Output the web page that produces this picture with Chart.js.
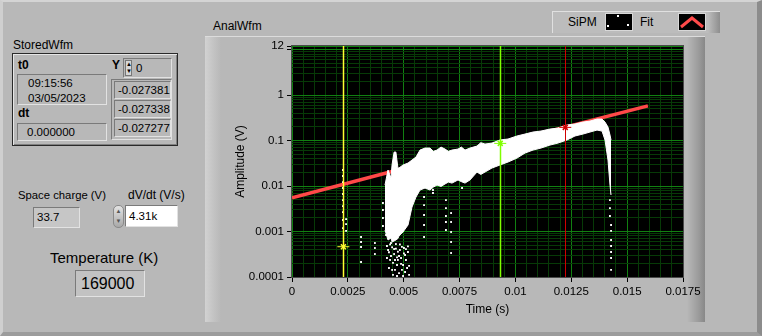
<!DOCTYPE html>
<html>
<head>
<meta charset="utf-8">
<script src="https://cdn.jsdelivr.net/npm/chart.js@4/dist/chart.umd.min.js"></script>
<style>
  body { margin: 0; width: 762px; height: 336px; overflow: hidden; background: #b8b8b8;
         font-family: "Liberation Sans", Arial, sans-serif; font-size: 12px; color: #000; position: relative; }
  .abs { position: absolute; white-space: nowrap; }
  #panel { left: 0; top: 0; width: 762px; height: 336px; box-sizing: border-box;
           border-top: 2px solid #d4d4d4; border-left: 3px solid #cfcfcf; border-right: 5px solid #8c8c8c; border-bottom: 4px solid #9c9c9c; }
  .lbl { line-height: 14px; }
  .sunk { box-sizing: border-box; border-top: 1px solid #7a7a7a; border-left: 1px solid #7a7a7a;
          border-bottom: 1px solid #e2e2e2; border-right: 1px solid #e2e2e2; }
  .raised { box-sizing: border-box; border: 1px solid #2a2a2a; box-shadow: inset 1px 1px #e6e6e6, inset -1px -1px #808080; }
  .cell { left: 114px; width: 57px; height: 18px; line-height: 16px; padding-left: 3px; font-size: 11.5px; }
  #graphFrame { left: 205px; top: 36px; width: 500px; height: 286px; box-sizing: border-box;
                border-top: 1px solid #dcdcdc;
                background: linear-gradient(to right, #d2d2d2 0, #c4c4c4 8px, #b8b8b8 16px, #b8b8b8 calc(100% - 18px), #9a9a9a calc(100% - 6px), #888 100%); }
  #legend { left: 552px; top: 11px; width: 168px; height: 22px; box-sizing: border-box;
            border-top: 1px solid #e0e0e0; border-left: 1px solid #e0e0e0;
            background: linear-gradient(to right, #bcbcbc 0, #bcbcbc calc(100% - 12px), #8e8e8e 100%); }
  .swatch { background: #000; width: 28px; height: 18px; top: 13px; box-sizing: border-box; border: 1px solid #d8d8d8; }
</style>
</head>
<body>
<div id="panel" class="abs"></div>

<!-- StoredWfm cluster -->
<div class="abs lbl" style="left:13px;top:38px;">StoredWfm</div>
<div class="abs raised" style="left:12px;top:53px;width:166px;height:93px;"></div>
<div class="abs lbl" style="left:18px;top:58px;font-weight:bold;">t0</div>
<div class="abs sunk" style="left:17px;top:74px;width:90px;height:31px;padding:1px 0 0 10px;line-height:15px;font-size:11.5px;">09:15:56<br>03/05/2023</div>
<div class="abs lbl" style="left:18px;top:106px;font-weight:bold;">dt</div>
<div class="abs sunk" style="left:17px;top:123px;width:90px;height:18px;padding-left:9px;line-height:16px;font-size:11.5px;">0.000000</div>
<div class="abs lbl" style="left:112px;top:58px;font-weight:bold;">Y</div>
<div class="abs sunk" style="left:123px;top:58px;width:49px;height:20px;"></div>
<div class="abs" style="left:125px;top:60px;width:7px;height:16px;background:#d6d6d6;border:1px solid #777;box-sizing:border-box;font-size:6px;line-height:7px;text-align:center;">&#9650;<br>&#9660;</div>
<div class="abs lbl" style="left:136px;top:61px;font-size:11.5px;">0</div>
<div class="abs sunk" style="left:111px;top:79px;width:61px;height:61px;"></div>
<div class="abs sunk cell" style="top:81px;">-0.027381</div>
<div class="abs sunk cell" style="top:100px;">-0.027338</div>
<div class="abs sunk cell" style="top:119px;">-0.027277</div>

<!-- Space charge / dV/dt / Temperature -->
<div class="abs lbl" style="left:18px;top:188px;font-size:11.3px;">Space charge (V)</div>
<div class="abs sunk" style="left:33px;top:207px;width:47px;height:21px;background:#c6c6c6;padding-left:3px;line-height:19px;font-size:11.5px;">33.7</div>
<div class="abs lbl" style="left:128px;top:188px;">dV/dt (V/s)</div>
<div class="abs" style="left:113px;top:205px;width:11px;height:23px;border-radius:5px;box-sizing:border-box;border:1px solid #8a8a8a;background:linear-gradient(#e4e4e4,#a8a8a8);font-size:6px;line-height:10px;text-align:center;color:#555;">&#9650;<br>&#9660;</div>
<div class="abs sunk" style="left:125px;top:205px;width:53px;height:22px;background:#fff;padding-left:3px;line-height:20px;font-size:11.5px;">4.31k</div>
<div class="abs" style="left:50px;top:249px;font-size:15px;line-height:18px;">Temperature (K)</div>
<div class="abs sunk" style="left:75px;top:270px;width:70px;height:27px;background:#c2c2c2;padding-left:5px;line-height:25px;font-size:16px;">169000</div>

<!-- Graph -->
<div class="abs lbl" style="left:213px;top:19px;">AnalWfm</div>
<div id="graphFrame" class="abs"></div>
<div class="abs" style="left:205px;top:36px;width:500px;height:286px;"><canvas id="graph"></canvas></div>

<div id="legend" class="abs"></div>
<div class="abs lbl" style="left:568px;top:15px;">SiPM</div>
<div class="abs swatch" style="left:605px;">
  <div class="abs" style="left:11px;top:1px;width:2px;height:2px;background:#fff;"></div>
  <div class="abs" style="left:1px;top:11px;width:2px;height:2px;background:#fff;"></div>
  <div class="abs" style="left:21px;top:10px;width:2px;height:2px;background:#fff;"></div>
</div>
<div class="abs lbl" style="left:640px;top:15px;">Fit</div>
<div class="abs swatch" style="left:678px;">
  <svg width="26" height="16" style="position:absolute;left:0;top:0"><polyline points="2,13 13,4 24,13" fill="none" stroke="#ff4a4a" stroke-width="3"/></svg>
</div>

<script>
// Fit line (exponential, straight on the log axis)
const fitX = [0, 0.00443, 0.0093, 0.01593];
const fitY = [0.0055, 0.0206, 0.084, 0.58];

// SiPM waveform envelope (dense white band)
const sipmX = [0.004162, 0.004297, 0.00443, 0.00448, 0.00457, 0.00465, 0.00474, 0.004789, 0.004968, 0.005192,
  0.005371, 0.00555, 0.005729, 0.005953, 0.006176, 0.00633, 0.00649, 0.00667, 0.006848, 0.007, 0.007161,
  0.00743, 0.00758, 0.007743, 0.007967, 0.00828, 0.00845, 0.008638, 0.008951, 0.009309, 0.009668,
  0.01007, 0.010428, 0.010786, 0.011144, 0.011547, 0.011905, 0.012308, 0.012666, 0.013024, 0.013338,
  0.013651, 0.013875, 0.014009, 0.014143, 0.014233, 0.014278];
const sipmTop = [0.0105, 0.0225, 0.015, 0.03, 0.0559, 0.0559, 0.025, 0.0249, 0.029, 0.032,
  0.0373, 0.0434, 0.0618, 0.0684, 0.0684, 0.058, 0.0618, 0.072, 0.065, 0.058, 0.0618,
  0.065, 0.072, 0.0618, 0.0684, 0.0757, 0.09, 0.0838, 0.0881, 0.103, 0.108,
  0.126, 0.139, 0.154, 0.162, 0.179, 0.188, 0.219, 0.231, 0.255, 0.268,
  0.297, 0.297, 0.255, 0.198, 0.132, 0.103];
const sipmBottom = [0.00108, 0.00065, 0.00072, 0.000588, 0.00062, 0.00065, 0.0007, 0.0008, 0.000975, 0.00139,
  0.00345, 0.00573, 0.00817, 0.00904, 0.00817, 0.0095, 0.0105, 0.0098, 0.0111, 0.0122, 0.0116,
  0.0136, 0.0125, 0.0116, 0.0136, 0.0203, 0.018, 0.0203, 0.0249, 0.029, 0.0337,
  0.0412, 0.0531, 0.0618, 0.0684, 0.0796, 0.0881, 0.103, 0.126, 0.139, 0.154,
  0.17, 0.162, 0.103, 0.0373, 0.0105, 0.00634];

// Isolated SiPM samples
const dotX = [0.00228, 0.00228, 0.00228, 0.00228, 0.00228, 0.00228, 0.00228, 0.00228, 0.00228, 0.00228,
  0.00242, 0.00242, 0.00242, 0.00309, 0.00309, 0.00309, 0.00309, 0.00371, 0.00371, 0.00371,
  0.00407, 0.00407, 0.00407, 0.00407, 0.00421, 0.00425, 0.0043, 0.00434, 0.00439, 0.00443,
  0.00443, 0.00448, 0.00452, 0.00457, 0.00461, 0.00461, 0.00465, 0.0047, 0.0047, 0.00474,
  0.00479, 0.00479, 0.00483, 0.00488, 0.00492, 0.00497, 0.00497, 0.00501, 0.00506, 0.0051,
  0.00515, 0.00519, 0.00524, 0.00425, 0.00434, 0.00448, 0.00457, 0.00465, 0.00474, 0.00483,
  0.00492, 0.00501, 0.0051, 0.00519, 0.00439, 0.00452, 0.0047, 0.00488, 0.00506, 0.00524,
  0.00591, 0.00591, 0.00591, 0.00591, 0.00591, 0.00631, 0.00631,
  0.00689, 0.00689, 0.00689, 0.00689, 0.00689, 0.00712, 0.00712, 0.00712, 0.00712, 0.00712, 0.00761,
  0.01423, 0.01423, 0.01423, 0.01428, 0.01428, 0.01428, 0.01428, 0.01428, 0.01428, 0.01428];
const dotY = [0.0225, 0.0166, 0.0122, 0.00904, 0.00667, 0.00492, 0.00363, 0.00268, 0.00179, 0.00119,
  0.00188, 0.00146, 0.00103, 0.000757, 0.000588, 0.000456, 0.000214, 0.000559, 0.000434, 0.00032,
  0.00423, 0.00297, 0.00198, 0.00132, 0.000838, 0.000262, 0.000392, 0.000158, 0.000237, 0.000559,
  0.00029, 0.000143, 0.000111, 0.000412, 0.000237, 0.000143, 0.000531, 0.000184, 0.000105, 0.000237,
  0.000122, 0.00029, 0.000392, 0.000262, 0.000143, 0.000184, 0.000105, 0.000434, 0.000129, 0.000237,
  0.000158, 0.000354, 0.000111, 0.00048, 0.00035, 0.00045, 0.00032, 0.00042, 0.00036, 0.00052,
  0.00046, 0.00033, 0.00041, 0.00047, 0.00052, 0.000205, 0.00027, 0.000195, 0.000305, 0.000175,
  0.00573, 0.00382, 0.00231, 0.00139, 0.000757, 0.00817, 0.00702,
  0.00492, 0.00328, 0.00219, 0.00162, 0.00108, 0.00255, 0.00162, 0.000975, 0.000588, 0.000337, 0.00904,
  0.00492, 0.00328, 0.00219, 0.00139, 0.00103, 0.00065, 0.00048, 0.000354, 0.000262, 0.000143];

// Cursors
const cursorX = [0.0023, 0.00932, 0.01223];
const cursorY = [0.000463, 0.0867, 0.195];
const cursorColors = ["#ffff30", "#80ff00", "#d00000"];

// Axis ticks
const xMajor = [0, 0.0025, 0.005, 0.0075, 0.01, 0.0125, 0.015, 0.0175];
const xLabels = ["0", "0.0025", "0.005", "0.0075", "0.01", "0.0125", "0.015", "0.0175"];
const xMinorPerMajor = 5;
const yDecades = [0.0001, 0.001, 0.01, 0.1, 1];
const yTop = 12;
const yLabelled = [0.0001, 0.001, 0.01, 0.1, 1, 12];

const MAJOR_GRID = "#118011";
const MINOR_GRID = "#073a07";

const xTicks = [];
for (let i = 0; i < xMajor.length - 1; i++) {
  for (let k = 0; k < xMinorPerMajor; k++) {
    xTicks.push({ value: xMajor[i] + (xMajor[i + 1] - xMajor[i]) * k / xMinorPerMajor, major: k === 0, idx: i });
  }
}
xTicks.push({ value: xMajor[xMajor.length - 1], major: true, idx: xMajor.length - 1 });

const yTicks = [];
yDecades.forEach((d) => { for (let m = 1; m <= 9; m++) yTicks.push({ value: d * m, major: m === 1 }); });
yTicks.push({ value: 10, major: true });
yTicks.push({ value: yTop, major: true });

const pts = (xs, ys) => xs.map((x, i) => ({ x, y: ys[i] }));

const blackArea = {
  id: "blackArea",
  beforeDraw(chart) {
    const { ctx, chartArea: a } = chart;
    ctx.save();
    ctx.fillStyle = "#000";
    ctx.fillRect(a.left, a.top, a.width, a.height);
    ctx.restore();
  },
};

const cursorLines = {
  id: "cursorLines",
  afterDatasetsDraw(chart) {
    const { ctx, chartArea: a, scales } = chart;
    ctx.save();
    cursorX.forEach((cx, i) => {
      const px = Math.round(scales.x.getPixelForValue(cx)) + 0.5;
      ctx.strokeStyle = cursorColors[i];
      ctx.lineWidth = i === 2 ? 1 : 1.5;
      ctx.beginPath();
      ctx.moveTo(px, a.top);
      ctx.lineTo(px, a.bottom);
      ctx.stroke();
    });
    ctx.strokeStyle = "#4a4a4a";
    ctx.lineWidth = 1;
    ctx.strokeRect(a.left - 0.5, a.top - 0.5, a.width + 1, a.height + 1);
    ctx.restore();
  },
};

new Chart(document.getElementById("graph"), {
  type: "line",
  data: {
    datasets: [
      { data: pts(fitX, fitY), borderColor: "#ff4848", borderWidth: 3.5, pointRadius: 0, fill: false, order: 5 },
      { data: pts(sipmX, sipmBottom), borderColor: "#fff", borderWidth: 1, pointRadius: 0, fill: false, order: 3 },
      { data: pts(sipmX, sipmTop), borderColor: "#fff", borderWidth: 1, pointRadius: 0, fill: "-1", backgroundColor: "#fff", order: 3 },
      { data: pts(dotX, dotY), showLine: false, pointStyle: "rect", pointRadius: 1.3, backgroundColor: "#fff", borderWidth: 0, order: 2 },
      { data: pts(cursorX, cursorY), showLine: false, pointStyle: "crossRot", pointRadius: 3.5, borderColor: cursorColors, borderWidth: 1.5, order: 1 },
      { data: pts(cursorX, cursorY), showLine: false, pointStyle: "line", pointRadius: 6, borderColor: cursorColors, borderWidth: 1, order: 1 },
    ],
  },
  options: {
    responsive: true,
    maintainAspectRatio: false,
    animation: false,
    events: [],
    layout: { padding: { top: 10, right: 22, left: 0, bottom: 0 } },
    plugins: { legend: { display: false }, tooltip: { enabled: false } },
    scales: {
      x: {
        type: "linear",
        min: 0,
        max: 0.0175,
        afterBuildTicks: (s) => { s.ticks = xTicks.map((t) => ({ value: t.value, major: t.major })); },
        afterFit: (s) => { s.height = 45; },
        ticks: {
          autoSkip: false,
          maxRotation: 0,
          padding: 3,
          color: "#000",
          font: { family: "Liberation Sans", size: 11.5 },
          callback: (v, i) => (xTicks[i].major ? xLabels[xTicks[i].idx] : ""),
        },
        grid: {
          color: (c) => (c.tick && c.tick.major ? MAJOR_GRID : MINOR_GRID),
          tickColor: (c) => (c.tick && c.tick.major ? "#000" : "rgba(0,0,0,0)"),
          tickLength: 5,
          lineWidth: 1,
        },
        border: { display: false },
        title: { display: true, text: "Time (s)", color: "#000", font: { family: "Liberation Sans", size: 12 }, padding: { top: 0, bottom: 5 } },
      },
      y: {
        type: "logarithmic",
        min: 0.0001,
        max: yTop,
        afterBuildTicks: (s) => { s.ticks = yTicks.map((t) => ({ value: t.value, major: t.major })); },
        afterFit: (s) => { s.width = 87; },
        ticks: {
          autoSkip: false,
          padding: 3,
          color: "#000",
          font: { family: "Liberation Sans", size: 11.5 },
          callback: (v) => (yLabelled.includes(v) ? String(v) : ""),
        },
        grid: {
          color: (c) => (c.tick && c.tick.major ? MAJOR_GRID : MINOR_GRID),
          tickColor: (c) => (c.tick && c.tick.major ? "#000" : "rgba(0,0,0,0)"),
          tickLength: 5,
          lineWidth: 1,
        },
        border: { display: false },
        title: { display: true, text: "Amplitude (V)", color: "#000", font: { family: "Liberation Sans", size: 12 }, padding: { top: 28, bottom: 0 } },
      },
    },
  },
  plugins: [blackArea, cursorLines],
});
</script>
</body>
</html>
